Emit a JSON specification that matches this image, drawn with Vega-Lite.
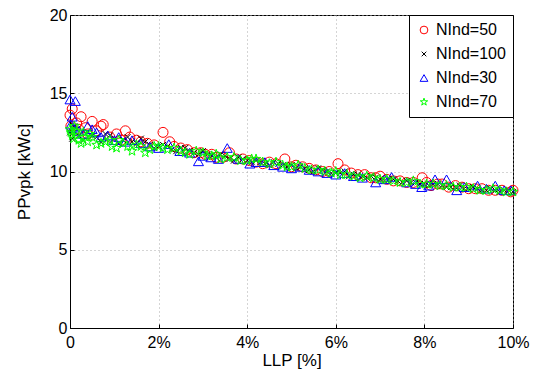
{
  "$schema": "https://vega.github.io/schema/vega-lite/v6.json",
  "autosize": "none",
  "width": 443,
  "height": 313,
  "padding": {"left": 70, "top": 15, "right": 21, "bottom": 46},
  "background": "white",
  "config": {
    "font": "Liberation Sans",
    "view": {"stroke": "black", "strokeWidth": 1},
    "axis": {
      "domainColor": "black",
      "tickColor": "black",
      "labelColor": "black",
      "titleColor": "black",
      "labelFont": "Liberation Sans",
      "titleFont": "Liberation Sans",
      "labelFontSize": 16,
      "titleFontSize": 17,
      "titleFontWeight": "normal",
      "gridColor": "#aaaaaa",
      "gridDash": [1, 3],
      "gridWidth": 1,
      "tickSize": -4
    },
    "legend": {
      "orient": "top-right",
      "offset": 0,
      "fillColor": "white",
      "strokeColor": "black",
      "padding": 7,
      "labelFont": "Liberation Sans",
      "labelFontSize": 16,
      "labelColor": "black",
      "rowPadding": 8,
      "symbolStrokeWidth": 1,
      "symbolSize": 60
    }
  },
  "data": {
    "values": [
      {"s": "NInd=50", "x": 0.0, "y": 13.6},
      {"s": "NInd=50", "x": 0.05, "y": 14.0},
      {"s": "NInd=50", "x": 0.15, "y": 13.1},
      {"s": "NInd=50", "x": 0.25, "y": 13.5},
      {"s": "NInd=50", "x": 0.35, "y": 12.8},
      {"s": "NInd=50", "x": 0.5, "y": 13.2},
      {"s": "NInd=50", "x": 0.7, "y": 12.9},
      {"s": "NInd=50", "x": 0.75, "y": 13.0},
      {"s": "NInd=50", "x": 1.05, "y": 12.4},
      {"s": "NInd=50", "x": 1.25, "y": 12.6},
      {"s": "NInd=50", "x": 1.5, "y": 12.0},
      {"s": "NInd=50", "x": 1.75, "y": 11.8},
      {"s": "NInd=50", "x": 2.1, "y": 12.5},
      {"s": "NInd=50", "x": 2.25, "y": 11.9},
      {"s": "NInd=50", "x": 2.5, "y": 11.5},
      {"s": "NInd=50", "x": 2.8, "y": 11.2},
      {"s": "NInd=50", "x": 3.05, "y": 11.1},
      {"s": "NInd=50", "x": 3.3, "y": 10.9},
      {"s": "NInd=50", "x": 3.6, "y": 11.2},
      {"s": "NInd=50", "x": 3.9, "y": 10.8},
      {"s": "NInd=50", "x": 4.2, "y": 10.6},
      {"s": "NInd=50", "x": 4.5, "y": 10.6},
      {"s": "NInd=50", "x": 4.85, "y": 10.8},
      {"s": "NInd=50", "x": 5.1, "y": 10.4},
      {"s": "NInd=50", "x": 5.4, "y": 10.2},
      {"s": "NInd=50", "x": 5.7, "y": 10.0},
      {"s": "NInd=50", "x": 6.05, "y": 10.5},
      {"s": "NInd=50", "x": 6.2, "y": 10.1},
      {"s": "NInd=50", "x": 6.5, "y": 9.8},
      {"s": "NInd=50", "x": 6.8, "y": 9.6},
      {"s": "NInd=50", "x": 7.0, "y": 9.7},
      {"s": "NInd=50", "x": 7.3, "y": 9.4},
      {"s": "NInd=50", "x": 7.6, "y": 9.3},
      {"s": "NInd=50", "x": 7.95, "y": 9.6},
      {"s": "NInd=50", "x": 8.15, "y": 9.1},
      {"s": "NInd=50", "x": 8.4, "y": 9.2},
      {"s": "NInd=50", "x": 8.7, "y": 9.1},
      {"s": "NInd=50", "x": 9.0, "y": 8.9},
      {"s": "NInd=50", "x": 9.3, "y": 8.9},
      {"s": "NInd=50", "x": 9.6, "y": 8.8},
      {"s": "NInd=50", "x": 9.95, "y": 8.7},
      {"s": "NInd=50", "x": 0.02, "y": 12.9},
      {"s": "NInd=50", "x": 0.1, "y": 12.6},
      {"s": "NInd=50", "x": 0.2, "y": 12.7},
      {"s": "NInd=50", "x": 0.4, "y": 12.4},
      {"s": "NInd=50", "x": 0.6, "y": 12.6},
      {"s": "NInd=50", "x": 0.9, "y": 12.2},
      {"s": "NInd=50", "x": 1.15, "y": 12.0},
      {"s": "NInd=50", "x": 1.35, "y": 12.2},
      {"s": "NInd=50", "x": 1.6, "y": 11.9},
      {"s": "NInd=50", "x": 1.9, "y": 11.7},
      {"s": "NInd=50", "x": 2.35, "y": 11.6},
      {"s": "NInd=50", "x": 2.65, "y": 11.4},
      {"s": "NInd=50", "x": 2.95, "y": 11.2},
      {"s": "NInd=50", "x": 3.2, "y": 11.1},
      {"s": "NInd=50", "x": 3.45, "y": 10.9},
      {"s": "NInd=50", "x": 3.75, "y": 10.8},
      {"s": "NInd=50", "x": 4.05, "y": 10.7},
      {"s": "NInd=50", "x": 4.35, "y": 10.5},
      {"s": "NInd=50", "x": 4.65, "y": 10.5},
      {"s": "NInd=50", "x": 5.0, "y": 10.3},
      {"s": "NInd=50", "x": 5.25, "y": 10.3},
      {"s": "NInd=50", "x": 5.55, "y": 10.1},
      {"s": "NInd=50", "x": 5.85, "y": 10.0},
      {"s": "NInd=50", "x": 6.35, "y": 9.9},
      {"s": "NInd=50", "x": 6.65, "y": 9.8},
      {"s": "NInd=50", "x": 6.9, "y": 9.6},
      {"s": "NInd=50", "x": 7.15, "y": 9.5},
      {"s": "NInd=50", "x": 7.45, "y": 9.4},
      {"s": "NInd=50", "x": 7.75, "y": 9.3},
      {"s": "NInd=50", "x": 8.05, "y": 9.3},
      {"s": "NInd=50", "x": 8.3, "y": 9.2},
      {"s": "NInd=50", "x": 8.55, "y": 9.0},
      {"s": "NInd=50", "x": 8.85, "y": 9.0},
      {"s": "NInd=50", "x": 9.15, "y": 8.9},
      {"s": "NInd=50", "x": 9.45, "y": 8.8},
      {"s": "NInd=50", "x": 9.75, "y": 8.8},
      {"s": "NInd=50", "x": 10.0, "y": 8.8},

      {"s": "NInd=100", "x": 0.0, "y": 12.5},
      {"s": "NInd=100", "x": 0.1, "y": 12.9},
      {"s": "NInd=100", "x": 0.2, "y": 12.3},
      {"s": "NInd=100", "x": 0.4, "y": 12.5},
      {"s": "NInd=100", "x": 0.6, "y": 12.2},
      {"s": "NInd=100", "x": 0.8, "y": 12.4},
      {"s": "NInd=100", "x": 1.0, "y": 12.1},
      {"s": "NInd=100", "x": 1.2, "y": 12.0},
      {"s": "NInd=100", "x": 1.4, "y": 11.9},
      {"s": "NInd=100", "x": 1.6, "y": 12.1},
      {"s": "NInd=100", "x": 1.8, "y": 11.7},
      {"s": "NInd=100", "x": 2.0, "y": 11.6},
      {"s": "NInd=100", "x": 2.2, "y": 11.6},
      {"s": "NInd=100", "x": 2.4, "y": 11.3},
      {"s": "NInd=100", "x": 2.6, "y": 11.5},
      {"s": "NInd=100", "x": 2.8, "y": 11.2},
      {"s": "NInd=100", "x": 3.0, "y": 11.3},
      {"s": "NInd=100", "x": 3.2, "y": 11.0},
      {"s": "NInd=100", "x": 3.4, "y": 11.1},
      {"s": "NInd=100", "x": 3.6, "y": 10.8},
      {"s": "NInd=100", "x": 3.8, "y": 10.9},
      {"s": "NInd=100", "x": 4.0, "y": 10.7},
      {"s": "NInd=100", "x": 4.2, "y": 10.7},
      {"s": "NInd=100", "x": 4.4, "y": 10.5},
      {"s": "NInd=100", "x": 4.6, "y": 10.6},
      {"s": "NInd=100", "x": 4.8, "y": 10.4},
      {"s": "NInd=100", "x": 5.0, "y": 10.4},
      {"s": "NInd=100", "x": 5.2, "y": 10.3},
      {"s": "NInd=100", "x": 5.4, "y": 10.1},
      {"s": "NInd=100", "x": 5.6, "y": 10.2},
      {"s": "NInd=100", "x": 5.8, "y": 10.0},
      {"s": "NInd=100", "x": 6.0, "y": 9.9},
      {"s": "NInd=100", "x": 6.2, "y": 10.0},
      {"s": "NInd=100", "x": 6.4, "y": 9.8},
      {"s": "NInd=100", "x": 6.6, "y": 9.7},
      {"s": "NInd=100", "x": 6.8, "y": 9.7},
      {"s": "NInd=100", "x": 7.0, "y": 9.5},
      {"s": "NInd=100", "x": 7.2, "y": 9.5},
      {"s": "NInd=100", "x": 7.4, "y": 9.4},
      {"s": "NInd=100", "x": 7.6, "y": 9.4},
      {"s": "NInd=100", "x": 7.8, "y": 9.3},
      {"s": "NInd=100", "x": 8.0, "y": 9.2},
      {"s": "NInd=100", "x": 8.2, "y": 9.2},
      {"s": "NInd=100", "x": 8.4, "y": 9.1},
      {"s": "NInd=100", "x": 8.6, "y": 9.0},
      {"s": "NInd=100", "x": 8.8, "y": 9.1},
      {"s": "NInd=100", "x": 9.0, "y": 8.9},
      {"s": "NInd=100", "x": 9.2, "y": 8.9},
      {"s": "NInd=100", "x": 9.4, "y": 8.8},
      {"s": "NInd=100", "x": 9.6, "y": 8.8},
      {"s": "NInd=100", "x": 9.8, "y": 8.8},
      {"s": "NInd=100", "x": 10.0, "y": 8.7},
      {"s": "NInd=100", "x": 0.05, "y": 12.1},
      {"s": "NInd=100", "x": 0.15, "y": 12.7},
      {"s": "NInd=100", "x": 0.3, "y": 12.0},
      {"s": "NInd=100", "x": 0.5, "y": 12.3},
      {"s": "NInd=100", "x": 0.7, "y": 11.9},
      {"s": "NInd=100", "x": 0.9, "y": 12.3},
      {"s": "NInd=100", "x": 1.1, "y": 11.8},
      {"s": "NInd=100", "x": 1.3, "y": 12.2},
      {"s": "NInd=100", "x": 1.5, "y": 11.8},
      {"s": "NInd=100", "x": 1.7, "y": 11.9},
      {"s": "NInd=100", "x": 1.9, "y": 11.5},
      {"s": "NInd=100", "x": 2.1, "y": 11.7},
      {"s": "NInd=100", "x": 2.3, "y": 11.4},
      {"s": "NInd=100", "x": 2.5, "y": 11.5},
      {"s": "NInd=100", "x": 2.7, "y": 11.3},
      {"s": "NInd=100", "x": 2.9, "y": 11.1},
      {"s": "NInd=100", "x": 3.1, "y": 11.1},
      {"s": "NInd=100", "x": 3.3, "y": 10.9},
      {"s": "NInd=100", "x": 3.5, "y": 11.0},
      {"s": "NInd=100", "x": 3.7, "y": 10.7},
      {"s": "NInd=100", "x": 3.9, "y": 10.8},
      {"s": "NInd=100", "x": 4.1, "y": 10.6},
      {"s": "NInd=100", "x": 4.3, "y": 10.6},
      {"s": "NInd=100", "x": 4.5, "y": 10.4},
      {"s": "NInd=100", "x": 4.7, "y": 10.5},
      {"s": "NInd=100", "x": 4.9, "y": 10.3},
      {"s": "NInd=100", "x": 5.1, "y": 10.2},
      {"s": "NInd=100", "x": 5.3, "y": 10.2},
      {"s": "NInd=100", "x": 5.5, "y": 10.0},
      {"s": "NInd=100", "x": 5.7, "y": 10.1},
      {"s": "NInd=100", "x": 5.9, "y": 9.9},
      {"s": "NInd=100", "x": 6.1, "y": 9.9},
      {"s": "NInd=100", "x": 6.3, "y": 9.7},
      {"s": "NInd=100", "x": 6.5, "y": 9.8},
      {"s": "NInd=100", "x": 6.7, "y": 9.6},
      {"s": "NInd=100", "x": 6.9, "y": 9.6},
      {"s": "NInd=100", "x": 7.1, "y": 9.4},
      {"s": "NInd=100", "x": 7.3, "y": 9.5},
      {"s": "NInd=100", "x": 7.5, "y": 9.3},
      {"s": "NInd=100", "x": 7.7, "y": 9.3},
      {"s": "NInd=100", "x": 7.9, "y": 9.2},
      {"s": "NInd=100", "x": 8.1, "y": 9.1},
      {"s": "NInd=100", "x": 8.3, "y": 9.2},
      {"s": "NInd=100", "x": 8.5, "y": 9.0},
      {"s": "NInd=100", "x": 8.7, "y": 9.0},
      {"s": "NInd=100", "x": 8.9, "y": 8.9},
      {"s": "NInd=100", "x": 9.1, "y": 9.0},
      {"s": "NInd=100", "x": 9.3, "y": 8.8},
      {"s": "NInd=100", "x": 9.5, "y": 8.9},
      {"s": "NInd=100", "x": 9.7, "y": 8.7},
      {"s": "NInd=100", "x": 9.9, "y": 8.8},

      {"s": "NInd=30", "x": 0.0, "y": 14.6},
      {"s": "NInd=30", "x": 0.05, "y": 13.5},
      {"s": "NInd=30", "x": 0.12, "y": 14.5},
      {"s": "NInd=30", "x": 0.2, "y": 12.6},
      {"s": "NInd=30", "x": 0.4, "y": 12.9},
      {"s": "NInd=30", "x": 0.6, "y": 12.5},
      {"s": "NInd=30", "x": 0.85, "y": 12.3},
      {"s": "NInd=30", "x": 1.1, "y": 12.2},
      {"s": "NInd=30", "x": 1.4, "y": 12.0},
      {"s": "NInd=30", "x": 1.8, "y": 11.6},
      {"s": "NInd=30", "x": 2.23, "y": 11.75},
      {"s": "NInd=30", "x": 2.48, "y": 11.3},
      {"s": "NInd=30", "x": 2.9, "y": 10.65},
      {"s": "NInd=30", "x": 3.18, "y": 10.9},
      {"s": "NInd=30", "x": 3.55, "y": 11.5},
      {"s": "NInd=30", "x": 3.8, "y": 10.8},
      {"s": "NInd=30", "x": 4.06, "y": 10.5},
      {"s": "NInd=30", "x": 4.4, "y": 10.6},
      {"s": "NInd=30", "x": 4.8, "y": 10.3},
      {"s": "NInd=30", "x": 5.2, "y": 10.3},
      {"s": "NInd=30", "x": 5.6, "y": 10.0},
      {"s": "NInd=30", "x": 6.0, "y": 9.8},
      {"s": "NInd=30", "x": 6.4, "y": 9.7},
      {"s": "NInd=30", "x": 6.9, "y": 9.3},
      {"s": "NInd=30", "x": 7.26, "y": 9.65},
      {"s": "NInd=30", "x": 7.6, "y": 9.3},
      {"s": "NInd=30", "x": 7.94, "y": 9.0},
      {"s": "NInd=30", "x": 8.24, "y": 9.5},
      {"s": "NInd=30", "x": 8.5, "y": 9.5},
      {"s": "NInd=30", "x": 8.73, "y": 8.8},
      {"s": "NInd=30", "x": 9.2, "y": 9.1},
      {"s": "NInd=30", "x": 9.6, "y": 9.1},
      {"s": "NInd=30", "x": 9.95, "y": 8.8},
      {"s": "NInd=30", "x": 0.02, "y": 13.0},
      {"s": "NInd=30", "x": 0.08, "y": 12.8},
      {"s": "NInd=30", "x": 0.3, "y": 12.4},
      {"s": "NInd=30", "x": 0.5, "y": 12.7},
      {"s": "NInd=30", "x": 0.7, "y": 12.2},
      {"s": "NInd=30", "x": 1.0, "y": 12.0},
      {"s": "NInd=30", "x": 1.25, "y": 11.9},
      {"s": "NInd=30", "x": 1.6, "y": 11.8},
      {"s": "NInd=30", "x": 2.0, "y": 11.5},
      {"s": "NInd=30", "x": 2.7, "y": 11.2},
      {"s": "NInd=30", "x": 3.0, "y": 11.0},
      {"s": "NInd=30", "x": 3.35, "y": 10.8},
      {"s": "NInd=30", "x": 4.2, "y": 10.6},
      {"s": "NInd=30", "x": 4.6, "y": 10.4},
      {"s": "NInd=30", "x": 5.0, "y": 10.2},
      {"s": "NInd=30", "x": 5.4, "y": 10.1},
      {"s": "NInd=30", "x": 5.8, "y": 9.9},
      {"s": "NInd=30", "x": 6.2, "y": 9.9},
      {"s": "NInd=30", "x": 6.6, "y": 9.6},
      {"s": "NInd=30", "x": 7.1, "y": 9.5},
      {"s": "NInd=30", "x": 7.8, "y": 9.2},
      {"s": "NInd=30", "x": 8.1, "y": 9.1},
      {"s": "NInd=30", "x": 8.9, "y": 9.0},
      {"s": "NInd=30", "x": 9.4, "y": 8.9},
      {"s": "NInd=30", "x": 9.8, "y": 8.8},

      {"s": "NInd=70", "x": 0.0, "y": 12.7},
      {"s": "NInd=70", "x": 0.05, "y": 12.3},
      {"s": "NInd=70", "x": 0.1, "y": 12.9},
      {"s": "NInd=70", "x": 0.2, "y": 12.0},
      {"s": "NInd=70", "x": 0.3, "y": 12.5},
      {"s": "NInd=70", "x": 0.4, "y": 11.9},
      {"s": "NInd=70", "x": 0.5, "y": 12.2},
      {"s": "NInd=70", "x": 0.7, "y": 11.8},
      {"s": "NInd=70", "x": 0.9, "y": 12.0},
      {"s": "NInd=70", "x": 1.05, "y": 11.5},
      {"s": "NInd=70", "x": 1.2, "y": 11.8},
      {"s": "NInd=70", "x": 1.4, "y": 11.3},
      {"s": "NInd=70", "x": 1.6, "y": 11.6},
      {"s": "NInd=70", "x": 1.8, "y": 11.4},
      {"s": "NInd=70", "x": 2.0, "y": 11.6},
      {"s": "NInd=70", "x": 2.2, "y": 11.4},
      {"s": "NInd=70", "x": 2.5, "y": 11.3},
      {"s": "NInd=70", "x": 2.7, "y": 11.1},
      {"s": "NInd=70", "x": 3.0, "y": 11.2},
      {"s": "NInd=70", "x": 3.2, "y": 11.0},
      {"s": "NInd=70", "x": 3.4, "y": 10.8},
      {"s": "NInd=70", "x": 3.7, "y": 10.9},
      {"s": "NInd=70", "x": 4.0, "y": 10.7},
      {"s": "NInd=70", "x": 4.2, "y": 10.8},
      {"s": "NInd=70", "x": 4.5, "y": 10.5},
      {"s": "NInd=70", "x": 4.8, "y": 10.4},
      {"s": "NInd=70", "x": 5.0, "y": 10.3},
      {"s": "NInd=70", "x": 5.3, "y": 10.2},
      {"s": "NInd=70", "x": 5.6, "y": 10.1},
      {"s": "NInd=70", "x": 5.9, "y": 9.9},
      {"s": "NInd=70", "x": 6.1, "y": 9.8},
      {"s": "NInd=70", "x": 6.4, "y": 9.7},
      {"s": "NInd=70", "x": 6.7, "y": 9.7},
      {"s": "NInd=70", "x": 7.0, "y": 9.5},
      {"s": "NInd=70", "x": 7.3, "y": 9.4},
      {"s": "NInd=70", "x": 7.6, "y": 9.3},
      {"s": "NInd=70", "x": 7.9, "y": 9.2},
      {"s": "NInd=70", "x": 8.2, "y": 9.2},
      {"s": "NInd=70", "x": 8.5, "y": 9.1},
      {"s": "NInd=70", "x": 8.8, "y": 9.0},
      {"s": "NInd=70", "x": 9.1, "y": 8.9},
      {"s": "NInd=70", "x": 9.4, "y": 8.8},
      {"s": "NInd=70", "x": 9.7, "y": 8.8},
      {"s": "NInd=70", "x": 10.0, "y": 8.7},
      {"s": "NInd=70", "x": 0.02, "y": 12.5},
      {"s": "NInd=70", "x": 0.08, "y": 12.1},
      {"s": "NInd=70", "x": 0.15, "y": 12.6},
      {"s": "NInd=70", "x": 0.25, "y": 11.8},
      {"s": "NInd=70", "x": 0.35, "y": 12.2},
      {"s": "NInd=70", "x": 0.45, "y": 12.4},
      {"s": "NInd=70", "x": 0.6, "y": 11.7},
      {"s": "NInd=70", "x": 0.8, "y": 11.9},
      {"s": "NInd=70", "x": 0.95, "y": 11.6},
      {"s": "NInd=70", "x": 1.1, "y": 12.0},
      {"s": "NInd=70", "x": 1.3, "y": 11.6},
      {"s": "NInd=70", "x": 1.5, "y": 11.7},
      {"s": "NInd=70", "x": 1.7, "y": 11.2},
      {"s": "NInd=70", "x": 1.9, "y": 11.6},
      {"s": "NInd=70", "x": 2.1, "y": 11.5},
      {"s": "NInd=70", "x": 2.35, "y": 11.5},
      {"s": "NInd=70", "x": 2.6, "y": 11.2},
      {"s": "NInd=70", "x": 2.85, "y": 11.3},
      {"s": "NInd=70", "x": 3.1, "y": 11.0},
      {"s": "NInd=70", "x": 3.3, "y": 11.1},
      {"s": "NInd=70", "x": 3.55, "y": 10.9},
      {"s": "NInd=70", "x": 3.85, "y": 10.7},
      {"s": "NInd=70", "x": 4.1, "y": 10.8},
      {"s": "NInd=70", "x": 4.35, "y": 10.6},
      {"s": "NInd=70", "x": 4.65, "y": 10.6},
      {"s": "NInd=70", "x": 4.9, "y": 10.3},
      {"s": "NInd=70", "x": 5.15, "y": 10.4},
      {"s": "NInd=70", "x": 5.45, "y": 10.1},
      {"s": "NInd=70", "x": 5.75, "y": 10.0},
      {"s": "NInd=70", "x": 6.0, "y": 10.0},
      {"s": "NInd=70", "x": 6.25, "y": 9.8},
      {"s": "NInd=70", "x": 6.55, "y": 9.6},
      {"s": "NInd=70", "x": 6.85, "y": 9.6},
      {"s": "NInd=70", "x": 7.15, "y": 9.5},
      {"s": "NInd=70", "x": 7.45, "y": 9.3},
      {"s": "NInd=70", "x": 7.75, "y": 9.4},
      {"s": "NInd=70", "x": 8.05, "y": 9.2},
      {"s": "NInd=70", "x": 8.35, "y": 9.1},
      {"s": "NInd=70", "x": 8.65, "y": 9.0},
      {"s": "NInd=70", "x": 8.95, "y": 9.0},
      {"s": "NInd=70", "x": 9.25, "y": 8.8},
      {"s": "NInd=70", "x": 9.55, "y": 8.9},
      {"s": "NInd=70", "x": 9.85, "y": 8.7}
    ]
  },
  "mark": {"type": "point", "filled": false, "strokeWidth": 1, "size": 100, "opacity": 1},
  "encoding": {
    "x": {
      "field": "x", "type": "quantitative",
      "scale": {"domain": [0, 10], "nice": false, "zero": false},
      "axis": {
        "orient": "bottom", "title": "LLP [%]", "values": [0, 2, 4, 6, 8, 10],
        "labelExpr": "datum.value == 0 ? '0' : datum.value + '%'",
        "grid": true, "labelPadding": 10, "titlePadding": 2,
        "labelFlush": false
      }
    },
    "y": {
      "field": "y", "type": "quantitative",
      "scale": {"domain": [0, 20], "nice": false, "zero": false},
      "axis": {
        "orient": "left", "title": "PPvpk [kWc]", "values": [0, 5, 10, 15, 20],
        "grid": true, "labelPadding": 7, "titlePadding": 16,
        "labelFlush": false
      }
    },
    "color": {
      "field": "s", "type": "nominal", "title": null,
      "scale": {
        "domain": ["NInd=50", "NInd=100", "NInd=30", "NInd=70"],
        "range": ["#ff0000", "#000000", "#0000ff", "#00ff00"]
      }
    },
    "shape": {
      "field": "s", "type": "nominal", "title": null,
      "scale": {
        "domain": ["NInd=50", "NInd=100", "NInd=30", "NInd=70"],
        "range": ["circle", "M-0.6,-0.6L0.6,0.6M-0.6,0.6L0.6,-0.6", "triangle-up", "M0,-1L0.225,-0.309L0.951,-0.309L0.363,0.118L0.588,0.809L0,0.382L-0.588,0.809L-0.363,0.118L-0.951,-0.309L-0.225,-0.309Z"]
      }
    }
  }
}
